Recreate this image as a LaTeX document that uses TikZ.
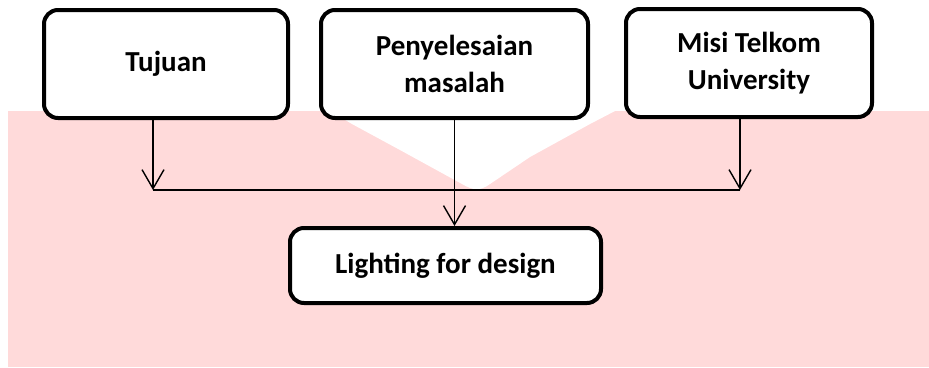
\documentclass[tikz,border=0pt]{standalone}
\usepackage{fontspec}
\setmainfont{Carlito}
\usepackage{xcolor}
\usepackage{tikz}
\usetikzlibrary{positioning,arrows.meta}

\definecolor{bgpink}{RGB}{255,218,218}

\begin{document}
\begin{tikzpicture}[x=1pt,y=-1pt,
  box/.style={draw,line width=4pt,rounded corners=14pt,fill=white,align=center,
    font=\fontsize{29}{37}\selectfont\bfseries},
  arr/.style={line width=1.4pt,-{Straight Barb[length=19pt,width=22pt,line width=1.4pt]}}]
\useasboundingbox (0,0) rectangle (929,367);
% background
\fill[bgpink] (8,111) rectangle (929,367);
\fill[white] (330,111) -- (352,124) -- (400,150) -- (462,184) .. controls (474,191) and (480,191) .. (490,184) -- (530,157) -- (590,124) -- (615,111) -- cycle;
  % boxes on top
  \node[box,minimum width=244pt,minimum height=108pt] (tujuan) at (166,64) {Tujuan};
  \node[box,minimum width=267pt,minimum height=108pt] (masalah) at (454.5,64) {Penyelesaian\\masalah};
  \node[box,minimum width=246pt,minimum height=108pt] (misi) at (749,63) {Misi Telkom\\University};
  \node[box,minimum width=311pt,minimum height=75pt] (lighting) at (445.5,265.5) {Lighting for design};
\coordinate (jl) at (153,190);
\coordinate (jr) at (740,190);
  \draw[arr] (jl |- tujuan.south) -- (jl);
  \draw[arr] (jr |- misi.south) -- (jr);
  \draw[line width=1.4pt] (jl) -- (jr);
  \draw[arr] (masalah.south) -- (masalah.south |- lighting.north);
\end{tikzpicture}
\end{document}
